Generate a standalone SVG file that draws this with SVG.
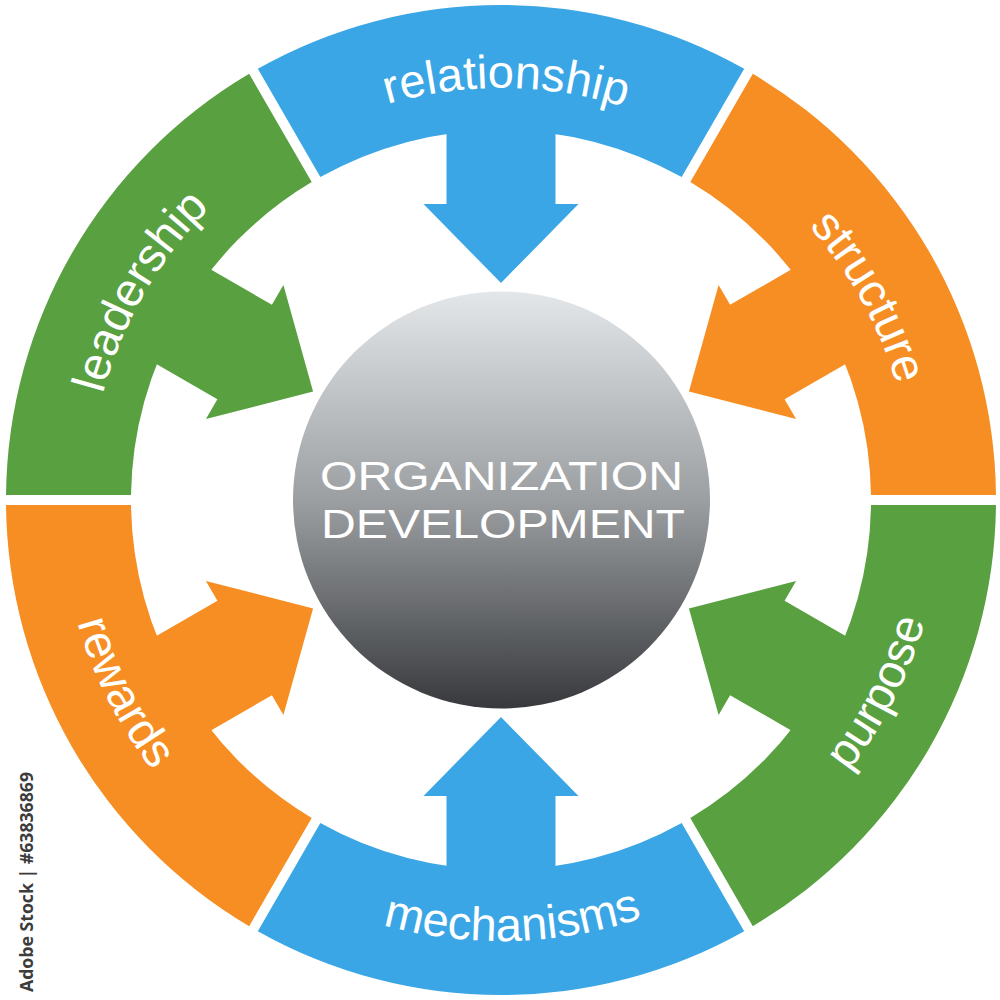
<svg xmlns="http://www.w3.org/2000/svg" width="1000" height="1000" viewBox="0 0 1000 1000">
<defs>
<linearGradient id="hub" x1="0" y1="0" x2="0" y2="1">
<stop offset="0" stop-color="#e4e7ea"/>
<stop offset="0.5" stop-color="#9c9fa2"/>
<stop offset="1" stop-color="#37393c"/>
</linearGradient>
<path id="seg" d="M -243.17 -431.17 A 495 495 0 0 1 243.17 -431.17 L 180.67 -322.92 A 370 370 0 0 0 -180.67 -322.92 Z"/>
<path id="arrow" d="M -54.5 -380 L 54.5 -380 L 54.5 -296 L 77.5 -296 L 0 -217 L -77.5 -296 L -54.5 -296 Z"/>
<path id="tp-rel" d="M 144.2 294 A 412 412 0 0 1 857.8 294"/>
<path id="tp-lead" d="M 144.2 706 A 412 412 0 0 1 501 88"/>
<path id="tp-str" d="M 501 88 A 412 412 0 0 1 857.8 706"/>
<path id="tp-mech" d="M 119.1 720.5 A 441 441 0 0 0 882.9 720.5"/>
<path id="tp-rew" d="M 119.1 279.5 A 441 441 0 0 0 501 941"/>
<path id="tp-pur" d="M 501 941 A 441 441 0 0 0 882.9 279.5"/>
</defs>
<style>
.lbl{font-family:"Liberation Sans",Arial,sans-serif;font-size:47px;fill:#ffffff}
.blue{fill:#3ba6e5}
.green{fill:#59a041}
.orange{fill:#f68e23}
.hubtxt{font-family:"Liberation Sans",Arial,sans-serif;font-size:40px;fill:#ffffff;text-anchor:middle}
</style>
<rect width="1000" height="1000" fill="#ffffff"/>
<g id="connectors">
<use href="#arrow" class="blue" transform="translate(501 500)"/>
<use href="#arrow" class="orange" transform="translate(501 500) rotate(60)"/>
<use href="#arrow" class="green" transform="translate(501 500) rotate(120)"/>
<use href="#arrow" class="blue" transform="translate(501 500) rotate(180)"/>
<use href="#arrow" class="orange" transform="translate(501 500) rotate(240)"/>
<use href="#arrow" class="green" transform="translate(501 500) rotate(300)"/>
</g>
<g id="relationship">
<use href="#seg" class="blue" transform="translate(501 500)"/>
<text class="lbl"><textPath href="#tp-rel" startOffset="50.6%" text-anchor="middle">relationship</textPath></text>
</g>
<g id="structure">
<use href="#seg" class="orange" transform="translate(501 500) rotate(60)"/>
<text class="lbl"><textPath href="#tp-str" startOffset="50.9%" text-anchor="middle">structure</textPath></text>
</g>
<g id="purpose">
<use href="#seg" class="green" transform="translate(501 500) rotate(120)"/>
<text class="lbl"><textPath href="#tp-pur" startOffset="52.5%" text-anchor="middle">purpose</textPath></text>
</g>
<g id="mechanisms">
<use href="#seg" class="blue" transform="translate(501 500) rotate(180)"/>
<text class="lbl"><textPath href="#tp-mech" startOffset="51.3%" text-anchor="middle">mechanisms</textPath></text>
</g>
<g id="rewards">
<use href="#seg" class="orange" transform="translate(501 500) rotate(240)"/>
<text class="lbl"><textPath href="#tp-rew" startOffset="47.5%" text-anchor="middle">rewards</textPath></text>
</g>
<g id="leadership">
<use href="#seg" class="green" transform="translate(501 500) rotate(300)"/>
<text class="lbl"><textPath href="#tp-lead" startOffset="50%" text-anchor="middle">leadership</textPath></text>
</g>
<g id="hub-node">
<circle cx="501.5" cy="500" r="208.5" fill="url(#hub)"/>
<text class="hubtxt" x="501.5" y="490" textLength="363" lengthAdjust="spacingAndGlyphs">ORGANIZATION</text>
<text class="hubtxt" x="503" y="538" textLength="364" lengthAdjust="spacingAndGlyphs">DEVELOPMENT</text>
</g>
<text x="0" y="0" transform="translate(33 992) rotate(-90)" font-family="'Open Sans','DejaVu Sans',sans-serif" font-size="18.5" font-weight="bold" fill="#3c3c3c" textLength="220" lengthAdjust="spacingAndGlyphs">Adobe Stock | #63836869</text>
</svg>
